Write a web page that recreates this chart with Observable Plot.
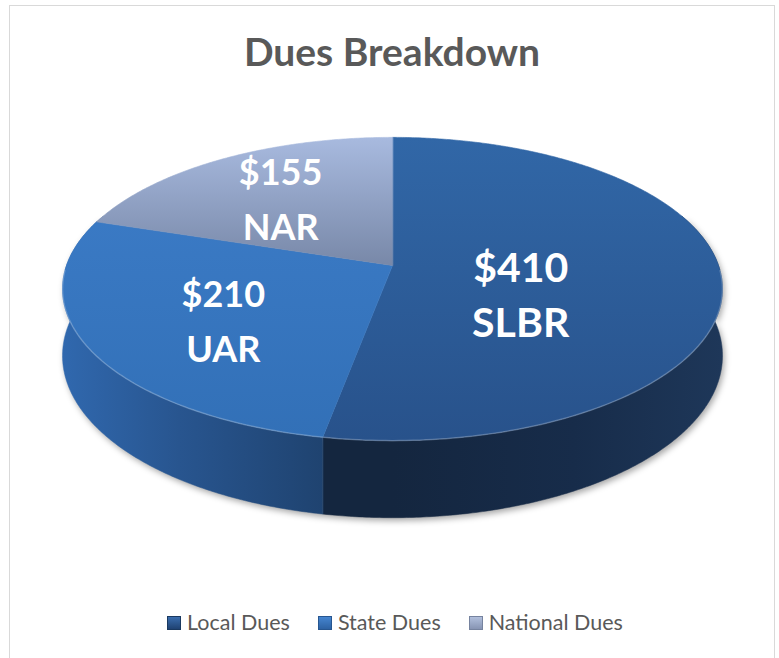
<!DOCTYPE html>
<html><head><meta charset="utf-8">
<script src="https://cdn.jsdelivr.net/npm/d3@7"></script>
<script src="https://cdn.jsdelivr.net/npm/@observablehq/plot@0.6"></script>
<style>
body{margin:0;background:#fff;font-family:Lato,"Open Sans",sans-serif;width:779px;height:658px;overflow:hidden;position:relative;}
#frame{position:absolute;left:9px;top:5px;width:766px;height:680px;border:1.5px solid #d9d9d9;box-sizing:border-box;}
#chart{position:absolute;left:0;top:0;}
#title{position:absolute;left:0;top:32px;width:784px;text-align:center;font-weight:700;font-size:39px;line-height:1;color:#595959;}
#legend{position:absolute;top:612px;left:3px;width:784px;display:flex;justify-content:center;gap:28px;font-size:21.5px;line-height:1;color:#595959;}
#legend .it{display:flex;align-items:center;}
#legend .sw{width:14px;height:14px;margin-right:6px;box-sizing:border-box;}
</style></head><body>
<div id="frame"></div>
<div id="chart"></div>
<div id="title">Dues Breakdown</div>
<div id="legend"></div>
<script>
// ---- data ----
const categories = ["Local Dues", "State Dues", "National Dues"];
const values = [410, 210, 155];
const names = ["SLBR", "UAR", "NAR"];

// ---- styles ----
const topColors = [["#3167a7", "#28528b"], ["#3d7dc9", "#3270b7"], ["#a8badf", "#7888a8"]];
// wall shading stops from the front-most point toward the outer side
const wallStops = [["#14263f", "#172c4a", "#1e3759"], ["#1f4370", "#28558f", "#3068ae"], ["#6f7f9e", "#7d8dac", "#8b9bbb"]];
const swatch = [["#3a6dae", "#1f4272", "#1a3960"], ["#4585d0", "#2d62a3", "#275690"], ["#b1bfdc", "#8794b3", "#76839f"]];

// ---- 3D geometry (perspective disc) ----
const K = 0.155, H = 0.44, VMIN = -0.35;
function proj(theta, z) {
  const u = Math.sin(theta), v = -Math.cos(theta);
  const s = 1 / (1 - K * v);
  return [u * s, v * s + z * H * s];
}
const arcs = d3.pie().sort(null).value(d => d)(values);
const deg = Math.PI / 180;
const step = 0.5 * deg;

const tops = arcs.map(a => {
  const pts = [[0, 0]];
  const n = Math.max(2, Math.ceil((a.endAngle - a.startAngle) / step));
  for (let j = 0; j <= n; j++) pts.push(proj(a.startAngle + (a.endAngle - a.startAngle) * j / n, 0));
  return pts.map(([x, y]) => ({x, y}));
});

// visible outer walls: one polygon per slice (top arc + bottom arc reversed)
const thLo = Math.acos(-VMIN), thHi = 2 * Math.PI - Math.acos(-VMIN);
const walls = arcs.map((a, i) => {
  const t0 = Math.max(a.startAngle, thLo), t1 = Math.min(a.endAngle, thHi);
  if (t1 <= t0) return null;
  const n = Math.max(2, Math.ceil((t1 - t0) / step));
  const ts = d3.range(n + 1).map(j => t0 + (t1 - t0) * j / n);
  const pts = [...ts.map(t => proj(t, 0)), ...ts.slice().reverse().map(t => proj(t, 1))];
  const xs = ts.map(t => proj(t, 0)[0]);
  // front-most point (max v) and outer extreme in x
  const front = proj(ts[d3.maxIndex(ts, t => -Math.cos(t))], 0)[0];
  const outer = Math.abs(d3.max(xs) - front) > Math.abs(d3.min(xs) - front) ? d3.max(xs) : d3.min(xs);
  return {i, front, outer, rows: pts.map(([x, y]) => ({x, y}))};
}).filter(Boolean);

// silhouette of the visible side (for the soft shadow)
const shadow = [
  ...d3.range(70, 291, 1).map(d => proj(d * deg, 0)),
  ...d3.range(290, 69, -1).map(d => proj(d * deg, 1))
].map(([x, y]) => ({x, y}));

const rim = d3.range(92, 269, 1).map(d => { const [x, y] = proj(d * deg, 0); return {x, y}; });

const labelRows = arcs.map((a, i) => {
  const c = d3.polygonCentroid(tops[i].map(p => [p.x, p.y]));
  return {x: c[0], y: c[1], value: "$" + values[i], name: names[i], big: values[i] === d3.max(values)};
});

const CX = 392, CY = 265, RX = 326, RY = 148;
const fam = "Lato, 'Open Sans', sans-serif";
const chart = Plot.plot({
  width: 779, height: 658, margin: 0,
  x: {domain: [-1, 1], range: [CX - RX, CX + RX], axis: null},
  y: {domain: [-1, 1], range: [CY - RY, CY + RY], axis: null},
  style: {background: "transparent", overflow: "visible"},
  marks: [
    Plot.line(shadow, {x: "x", y: "y", fill: "#000000", fillOpacity: 0.35, stroke: "none", dx: 2, dy: 3, curve: "linear-closed"}),
    ...walls.map(w => Plot.line(w.rows, {x: "x", y: "y", fill: `url(#wg${w.i})`, stroke: `url(#wg${w.i})`, strokeWidth: 0.5, curve: "linear-closed"})),
    ...tops.map((rows, i) => Plot.line(rows, {x: "x", y: "y", fill: `url(#tg${i})`, stroke: `url(#tg${i})`, strokeWidth: 0.6, curve: "linear-closed"})),
    Plot.line(rim, {x: "x", y: "y", stroke: "#ffffff", strokeOpacity: 0.22, strokeWidth: 1.5}),
    Plot.text(labelRows, {x: "x", y: "y", text: "value", dy: -27, fill: "white", fontWeight: "bold", fontFamily: fam, fontSize: d => d.big ? 41 : 36}),
    Plot.text(labelRows, {x: "x", y: "y", text: "name", dy: 28, fill: "white", fontWeight: "bold", fontFamily: fam, fontSize: d => d.big ? 41 : 36})
  ]
});

// gradients & shadow blur (positions converted through the plot's x scale)
const sx = chart.scale("x");
const ns = "http://www.w3.org/2000/svg";
const defs = document.createElementNS(ns, "defs");
defs.innerHTML = topColors.map((c, i) =>
  `<linearGradient id="tg${i}" gradientUnits="userSpaceOnUse" x1="0" y1="${CY - RY / (1 + K)}" x2="0" y2="${i === 2 ? CY : CY + RY / (1 - K)}">
     <stop offset="0" stop-color="${c[0]}"/><stop offset="1" stop-color="${c[1]}"/></linearGradient>`).join("") +
  walls.map(w => {
    const s = wallStops[w.i];
    return `<linearGradient id="wg${w.i}" gradientUnits="userSpaceOnUse" x1="${sx.apply(w.front)}" y1="0" x2="${sx.apply(w.outer)}" y2="0">
      <stop offset="0" stop-color="${s[0]}"/><stop offset="0.55" stop-color="${s[1]}"/><stop offset="1" stop-color="${s[2]}"/></linearGradient>`;
  }).join("") +
  `<filter id="sh" x="-10%" y="-20%" width="120%" height="140%"><feGaussianBlur stdDeviation="3"/></filter>`;
chart.insertBefore(defs, chart.firstChild);
const firstG = chart.querySelector(":scope > g");
if (firstG) firstG.setAttribute("filter", "url(#sh)");
document.getElementById("chart").appendChild(chart);

// legend
const lg = document.getElementById("legend");
categories.forEach((c, i) => {
  const it = document.createElement("div"); it.className = "it";
  const sw = document.createElement("div"); sw.className = "sw";
  sw.style.background = `linear-gradient(to bottom, ${swatch[i][0]}, ${swatch[i][1]})`;
  sw.style.border = `1px solid ${swatch[i][2]}`;
  const t = document.createElement("span"); t.textContent = c;
  it.appendChild(sw); it.appendChild(t); lg.appendChild(it);
});
</script>
</body></html>
